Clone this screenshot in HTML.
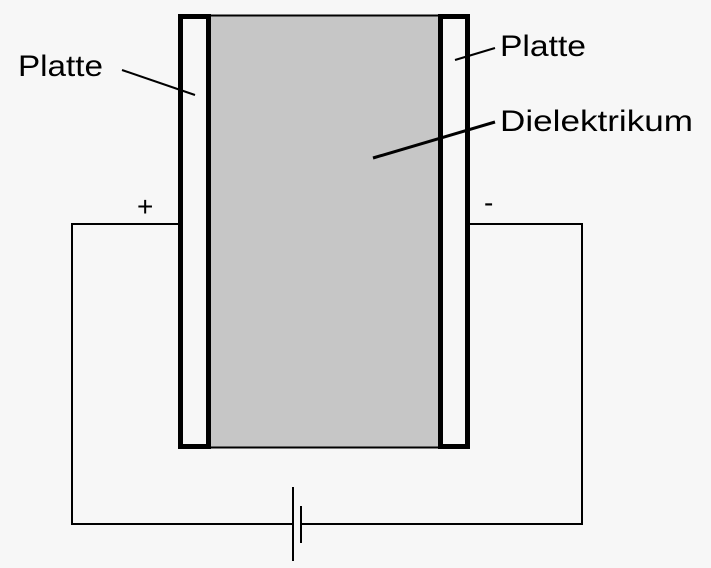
<!DOCTYPE html>
<html><head><style>body{margin:0;background:#f7f7f7}</style></head><body>
<svg width="711" height="568" xmlns="http://www.w3.org/2000/svg" style="display:block">
<rect width="711" height="568" fill="#f7f7f7"/>
<polyline points="180,224 72,224 72,524 293,524" fill="none" stroke="#000" stroke-width="2"/>
<polyline points="468,224 582,224 582,524 301,524" fill="none" stroke="#000" stroke-width="2"/>
<line x1="293" y1="487" x2="293" y2="561" stroke="#000" stroke-width="2"/>
<line x1="301" y1="506" x2="301" y2="543" stroke="#000" stroke-width="2"/>
<rect x="208" y="15.5" width="232" height="432" fill="#c6c6c6" stroke="#000" stroke-width="2"/>
<rect x="180.5" y="16.5" width="28" height="430" fill="#f7f7f7" stroke="#000" stroke-width="5"/>
<rect x="440.5" y="16.5" width="27" height="430" fill="#f7f7f7" stroke="#000" stroke-width="5"/>
<line x1="122" y1="70" x2="195" y2="95" stroke="#000" stroke-width="2"/>
<line x1="455" y1="60" x2="495" y2="48" stroke="#000" stroke-width="2"/>
<line x1="373" y1="158" x2="495" y2="122" stroke="#000" stroke-width="3"/>
<g font-family="Liberation Sans, sans-serif" font-size="30" fill="#000">
<text x="18" y="76" textLength="85" lengthAdjust="spacingAndGlyphs">Platte</text>
<text x="500" y="56" textLength="86" lengthAdjust="spacingAndGlyphs">Platte</text>
<text x="500" y="131" textLength="193" lengthAdjust="spacingAndGlyphs">Dielektrikum</text>
<text x="137" y="216" font-size="28">+</text>
<text x="484" y="212" font-size="28">-</text>
</g>
</svg>
</body></html>
